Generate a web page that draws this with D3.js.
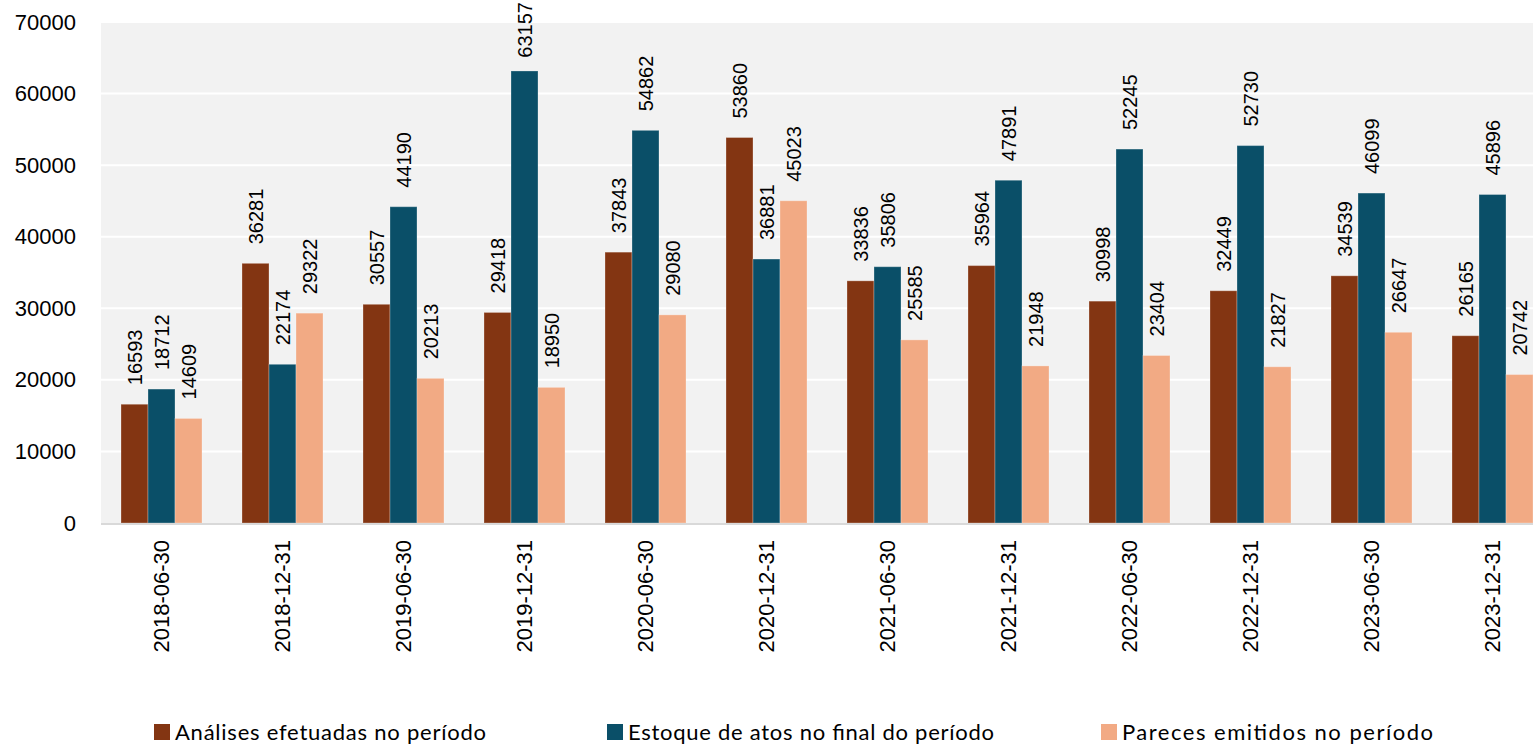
<!DOCTYPE html>
<html>
<head>
<meta charset="utf-8">
<script src="https://cdn.jsdelivr.net/npm/d3@7"></script>
<style>
  html, body { margin: 0; padding: 0; background: #ffffff; overflow: hidden; }
  svg { display: block; }
</style>
</head>
<body>
<svg id="chart" width="1533" height="746"></svg>
<script>
// Semester end dates
const periods = ["2018-06-30", "2018-12-31", "2019-06-30", "2019-12-31", "2020-06-30", "2020-12-31",
                 "2021-06-30", "2021-12-31", "2022-06-30", "2022-12-31", "2023-06-30", "2023-12-31"];

// Series names
const seriesNames = ["Análises efetuadas no período", "Estoque de atos no final do período", "Pareces emitidos no período"];

// Series values per period
const analises = [16593, 36281, 30557, 29418, 37843, 53860, 33836, 35964, 30998, 32449, 34539, 26165];
const estoque  = [18712, 22174, 44190, 63157, 54862, 36881, 35806, 47891, 52245, 52730, 46099, 45896];
const pareceres = [14609, 29322, 20213, 18950, 29080, 45023, 25585, 21948, 23404, 21827, 26647, 20742];

// Y axis ticks
const yTicks = [0, 10000, 20000, 30000, 40000, 50000, 60000, 70000];

const colors = ["#833512", "#0a4f68", "#f2aa84"];
const seriesValues = [analises, estoque, pareceres];

const svg = d3.select("#chart");

const plotLeft = 101, plotTop = 22, plotBottom = 523;
const step = 121;
const plotRight = plotLeft + step * periods.length;

const x0 = d3.scaleBand()
  .domain(periods)
  .range([plotLeft, plotRight])
  .paddingInner(40 / 121)
  .paddingOuter(20 / 121);

const x1 = d3.scaleBand()
  .domain(d3.range(seriesNames.length))
  .range([0, x0.bandwidth()]);

const y = d3.scaleLinear().domain([0, 70000]).range([plotBottom, plotTop]);

// Plot background
svg.append("rect")
  .attr("x", plotLeft).attr("y", plotTop + 1)
  .attr("width", plotRight - plotLeft).attr("height", plotBottom - plotTop - 1)
  .attr("fill", "#f2f2f2");

// Horizontal grid
svg.append("g")
  .selectAll("line")
  .data(yTicks.filter(t => t > 0 && t < 70000))
  .join("line")
  .attr("x1", plotLeft).attr("x2", plotRight)
  .attr("y1", d => y(d)).attr("y2", d => y(d))
  .attr("stroke", "#ffffff").attr("stroke-width", 2);

// Y axis labels
const yAxis = d3.axisLeft(y).tickValues(yTicks).tickFormat(d3.format("d")).tickSize(0).tickPadding(0);
const yg = svg.append("g").attr("transform", "translate(76,0)").call(yAxis);
yg.select(".domain").remove();
yg.selectAll("text")
  .attr("font-family", "'Liberation Sans', Arial, sans-serif")
  .attr("font-size", 22)
  .attr("fill", "#000");

// Bars
const rows = periods.map((p, i) => ({ period: p, values: seriesValues.map(s => s[i]) }));

const groups = svg.append("g")
  .selectAll("g")
  .data(rows)
  .join("g")
  .attr("transform", d => `translate(${x0(d.period)},0)`);

groups.selectAll("rect")
  .data(d => d.values.map((v, k) => ({ k, v })))
  .join("rect")
  .attr("x", d => x1(d.k))
  .attr("y", d => y(d.v))
  .attr("width", x1.bandwidth())
  .attr("height", d => y(0) - y(d.v))
  .attr("fill", d => colors[d.k])
  .attr("stroke", "rgba(255,255,255,0.28)")
  .attr("stroke-width", 1);

// Value labels, rotated above each bar
const labelGap = 19;
groups.selectAll("text.value")
  .data(d => d.values.map((v, k) => ({ k, v })))
  .join("text")
  .attr("class", "value")
  .attr("font-family", "'Liberation Sans', Arial, sans-serif")
  .attr("font-size", 20)
  .attr("fill", "#000")
  .attr("text-anchor", "start")
  .attr("dy", "0.35em")
  .text(d => d.v)
  .each(function (d) {
    const len = this.getComputedTextLength();
    let start = y(d.v) - labelGap;
    if (start - len < 2) start = len + 2;
    d3.select(this).attr("transform", `translate(${x1(d.k) + x1.bandwidth() / 2},${start}) rotate(-90)`);
  });

// Baseline
svg.append("line")
  .attr("x1", plotLeft).attr("x2", plotRight)
  .attr("y1", y(0) + 1).attr("y2", y(0) + 1)
  .attr("stroke", "#d9d9d9").attr("stroke-width", 2);

// X axis labels
svg.append("g")
  .selectAll("text")
  .data(periods)
  .join("text")
  .attr("transform", d => `translate(${x0(d) + x0.bandwidth() / 2},540) rotate(-90)`)
  .attr("text-anchor", "end")
  .attr("dy", "0.35em")
  .attr("font-family", "'Liberation Sans', Arial, sans-serif")
  .attr("font-size", 22)
  .attr("fill", "#000")
  .text(d => d);

// Legend
const legendX = [154, 607, 1101];
const legendW = [311, 366, 311];
const legend = svg.append("g")
  .selectAll("g")
  .data(seriesNames)
  .join("g")
  .attr("transform", (d, i) => `translate(${legendX[i]},724)`);

legend.append("rect")
  .attr("width", 16).attr("height", 16)
  .attr("fill", (d, i) => colors[i]);

legend.append("text")
  .attr("x", 21).attr("y", 16)
  .attr("font-family", "Lato, 'Open Sans', sans-serif")
  .attr("font-size", 22)
  .attr("fill", "#000")
  .attr("textLength", (d, i) => legendW[i])
  .attr("lengthAdjust", "spacing")
  .text(d => d);
</script>
</body>
</html>
